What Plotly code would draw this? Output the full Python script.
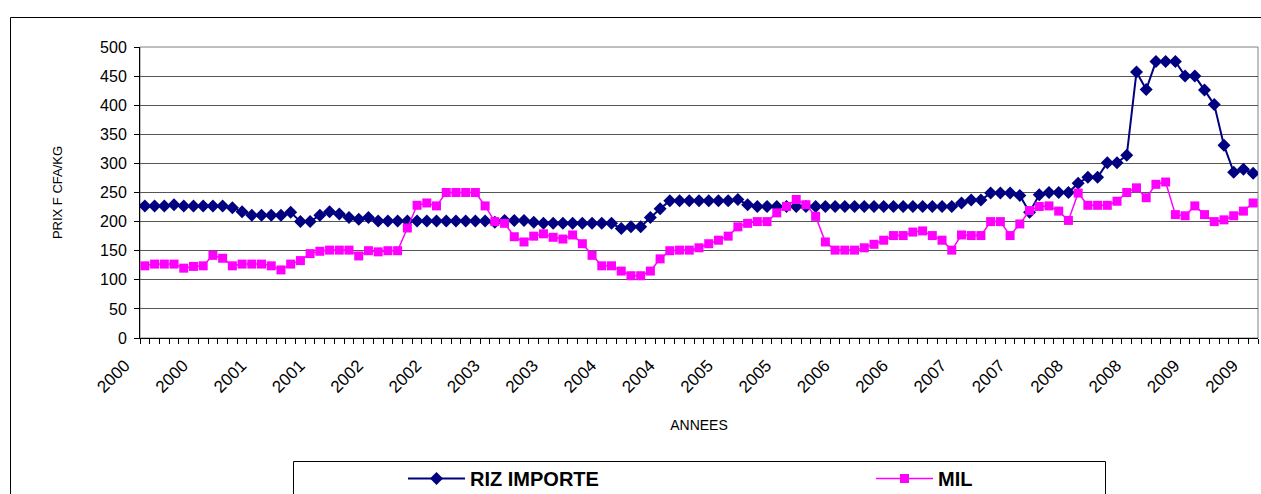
import plotly.graph_objects as go

# ---- data (monthly, Jan 2000 .. Jul 2009) ----
periods = list(range(115))
tick_positions = list(range(0, 115, 6))
tick_labels = ["2000", "2000", "2001", "2001", "2002", "2002", "2003", "2003",
               "2004", "2004", "2005", "2005", "2006", "2006", "2007", "2007",
               "2008", "2008", "2009", "2009"]

riz_importe = [227, 227, 227, 229, 227, 227, 227, 227, 227, 224,
               217, 211, 211, 211, 211, 216, 200, 200, 211, 217,
               213, 207, 204, 207, 201, 201, 201, 201, 201, 201,
               201, 201, 201, 201, 201, 201, 199, 202, 202, 202,
               199, 197, 197, 197, 197, 197, 197, 197, 197, 188,
               191, 191, 207, 222, 236, 236, 236, 236, 236, 236,
               236, 238, 229, 226, 226, 226, 226, 226, 226, 226,
               226, 226, 226, 226, 226, 226, 226, 226, 226, 226,
               226, 226, 226, 226, 232, 237, 237, 249, 249, 249,
               245, 216, 246, 250, 250, 250, 266, 276, 276, 301,
               301, 314, 457, 427, 475, 475, 475, 450, 450, 426,
               401, 331, 285, 290, 283]

mil = [124, 127, 127, 127, 120, 123, 124, 142, 137, 124,
       127, 127, 127, 124, 117, 127, 133, 145, 149, 151,
       151, 151, 141, 150, 148, 150, 150, 189, 228, 232,
       227, 250, 250, 250, 250, 227, 200, 197, 174, 165,
       175, 179, 173, 170, 177, 162, 142, 124, 124, 115,
       107, 107, 115, 136, 150, 151, 151, 155, 162, 168,
       175, 191, 197, 200, 200, 215, 226, 238, 229, 209,
       165, 151, 151, 151, 155, 161, 168, 176, 176, 182,
       184, 176, 168, 151, 177, 176, 176, 200, 200, 176,
       196, 219, 226, 227, 218, 202, 249, 228, 228, 228,
       235, 250, 258, 241, 264, 268, 212, 210, 227, 212,
       200, 203, 210, 218, 232]

FONT = "Liberation Sans, Arial, sans-serif"

# layout geometry (pixels)
W, H = 1261, 494
L, R, T, B = 140, 3, 47, 156
PW, PH = W - L - R, H - T - B


def px_x(px):
    return (px - L) / PW


def px_y(py):
    return (H - B - py) / PH


fig = go.Figure()
fig.add_trace(go.Scatter(
    x=periods, y=riz_importe, name="RIZ IMPORTE", mode="lines+markers",
    line=dict(color="#000080", width=2),
    marker=dict(symbol="diamond", size=10, color="#000080"),
))
fig.add_trace(go.Scatter(
    x=periods, y=mil, name="MIL", mode="lines+markers",
    line=dict(color="#FF00FF", width=1.5),
    marker=dict(symbol="square", size=9, color="#FF00FF"),
))

shapes = [
    # outer chart border
    dict(type="rect", xref="paper", yref="paper",
         x0=px_x(10.5), x1=px_x(1264), y0=px_y(520), y1=px_y(17.5),
         line=dict(color="black", width=1), fillcolor="rgba(0,0,0,0)", layer="below"),
    # plot area border
    dict(type="rect", xref="paper", yref="paper", x0=0, x1=1, y0=0, y1=1,
         line=dict(color="#808080", width=1), fillcolor="rgba(0,0,0,0)", layer="below"),
    # legend box
    dict(type="rect", xref="paper", yref="paper",
         x0=px_x(293.5), x1=px_x(1105.5), y0=px_y(520), y1=px_y(461.5),
         line=dict(color="black", width=1), fillcolor="rgba(0,0,0,0)", layer="below"),
]

fig.update_layout(
    width=W, height=H,
    margin=dict(l=L, r=R, t=T, b=B, autoexpand=False),
    paper_bgcolor="white", plot_bgcolor="white",
    font=dict(family=FONT, color="black"),
    shapes=shapes,
    showlegend=True,
    legend=dict(
        orientation="h", x=px_x(403), y=px_y(459), xanchor="left", yanchor="top",
        font=dict(family=FONT, size=20, color="black", weight="bold"),
        entrywidth=396, entrywidthmode="pixels",
        bgcolor="rgba(0,0,0,0)", borderwidth=0, itemwidth=57,
    ),
    xaxis=dict(
        range=[-0.5, 114.5],
        tickmode="array", tickvals=tick_positions, ticktext=tick_labels,
        tickangle=-45, tickfont=dict(family=FONT, size=17, color="black"),
        ticks="", showgrid=False, zeroline=False,
        ticklabelstandoff=10, ticklabelshift=-20,
        showline=True, linecolor="black", linewidth=1,
        minor=dict(ticks="outside", ticklen=5, tickcolor="black", tick0=-0.5, dtick=1,
                   showgrid=False),
        title=dict(text="ANNEES", font=dict(family=FONT, size=14, color="black"), standoff=24),
    ),
    yaxis=dict(
        range=[0, 500], tickmode="linear", tick0=0, dtick=50,
        ticks="outside", ticklen=5, tickcolor="black",
        tickfont=dict(family=FONT, size=16, color="black"),
        ticklabelstandoff=4,
        showgrid=True, gridcolor="#555555", gridwidth=1, zeroline=False,
        showline=True, linecolor="black", linewidth=1,
        title=dict(text="PRIX F CFA/KG", font=dict(family=FONT, size=13, color="black"), standoff=34),
    ),
)

fig.write_html(
    "out.html",
    config={"displayModeBar": False},
    post_script="document.body.style.margin='0';document.body.style.overflow='hidden';",
)
